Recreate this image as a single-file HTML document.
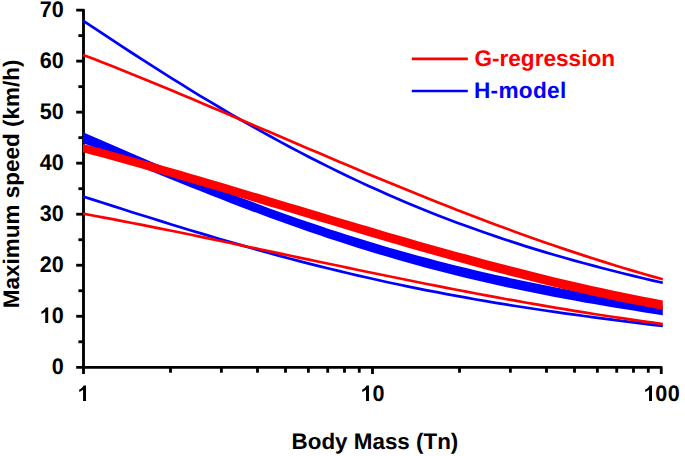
<!DOCTYPE html>
<html><head><meta charset="utf-8"><title>Chart</title>
<style>
html,body{margin:0;padding:0;background:#fff;}
body{width:685px;height:456px;overflow:hidden;font-family:"Liberation Sans",sans-serif;}
svg{display:block;}
</style></head>
<body>
<svg width="685" height="456" viewBox="0 0 685 456">
<rect width="685" height="456" fill="#ffffff"/>
<g stroke="#000" fill="none" stroke-linecap="butt" stroke-linejoin="round" stroke-width="2.85">
<path d="M76.20,10.09 H83.5 V374.00"/>
<path d="M76.20,367.3 H661.25 V374.00"/>
<line x1="78.40" y1="341.79" x2="83.5" y2="341.79"/>
<line x1="76.20" y1="316.27" x2="83.5" y2="316.27"/>
<line x1="78.40" y1="290.75" x2="83.5" y2="290.75"/>
<line x1="76.20" y1="265.24" x2="83.5" y2="265.24"/>
<line x1="78.40" y1="239.73" x2="83.5" y2="239.73"/>
<line x1="76.20" y1="214.21" x2="83.5" y2="214.21"/>
<line x1="78.40" y1="188.70" x2="83.5" y2="188.70"/>
<line x1="76.20" y1="163.18" x2="83.5" y2="163.18"/>
<line x1="78.40" y1="137.67" x2="83.5" y2="137.67"/>
<line x1="76.20" y1="112.15" x2="83.5" y2="112.15"/>
<line x1="78.40" y1="86.64" x2="83.5" y2="86.64"/>
<line x1="76.20" y1="61.12" x2="83.5" y2="61.12"/>
<line x1="78.40" y1="35.61" x2="83.5" y2="35.61"/>
<line x1="170.50" y1="367.3" x2="170.50" y2="372.70"/>
<line x1="221.39" y1="367.3" x2="221.39" y2="372.70"/>
<line x1="257.50" y1="367.3" x2="257.50" y2="372.70"/>
<line x1="285.50" y1="367.3" x2="285.50" y2="372.70"/>
<line x1="308.39" y1="367.3" x2="308.39" y2="372.70"/>
<line x1="327.73" y1="367.3" x2="327.73" y2="372.70"/>
<line x1="344.49" y1="367.3" x2="344.49" y2="372.70"/>
<line x1="359.28" y1="367.3" x2="359.28" y2="372.70"/>
<line x1="372.50" y1="367.3" x2="372.50" y2="374.00"/>
<line x1="459.50" y1="367.3" x2="459.50" y2="372.70"/>
<line x1="510.39" y1="367.3" x2="510.39" y2="372.70"/>
<line x1="546.50" y1="367.3" x2="546.50" y2="372.70"/>
<line x1="574.50" y1="367.3" x2="574.50" y2="372.70"/>
<line x1="597.39" y1="367.3" x2="597.39" y2="372.70"/>
<line x1="616.73" y1="367.3" x2="616.73" y2="372.70"/>
<line x1="633.49" y1="367.3" x2="633.49" y2="372.70"/>
<line x1="648.28" y1="367.3" x2="648.28" y2="372.70"/>
</g>
<g fill="none" stroke-width="2.7" stroke-linejoin="round">
<polyline points="83.0,20.6 92.8,27.2 102.7,33.7 112.5,40.2 122.3,46.7 132.1,53.0 142.0,59.4 151.8,65.7 161.6,71.9 171.4,78.1 181.3,84.2 191.1,90.3 200.9,96.3 210.8,102.2 220.6,108.0 230.4,113.8 240.2,119.5 250.1,125.1 259.9,130.6 269.7,136.0 279.5,141.4 289.4,146.7 299.2,151.9 309.0,157.0 318.9,162.0 328.7,166.9 338.5,171.7 348.3,176.5 358.2,181.1 368.0,185.7 377.8,190.1 387.6,194.5 397.5,198.7 407.3,202.9 417.1,207.0 426.9,211.0 436.8,214.9 446.6,218.7 456.4,222.4 466.3,226.1 476.1,229.6 485.9,233.1 495.7,236.4 505.6,239.7 515.4,242.9 525.2,246.1 535.0,249.1 544.9,252.1 554.7,255.0 564.5,257.8 574.4,260.6 584.2,263.3 594.0,265.9 603.8,268.5 613.7,271.0 623.5,273.5 633.3,275.9 643.1,278.2 653.0,280.6 662.8,282.8" stroke="#0000ff"/>
<polyline points="83.0,196.5 92.8,199.6 102.7,202.8 112.5,205.9 122.3,209.0 132.1,212.2 142.0,215.3 151.8,218.3 161.6,221.4 171.4,224.5 181.3,227.5 191.1,230.5 200.9,233.4 210.8,236.4 220.6,239.2 230.4,242.1 240.2,244.9 250.1,247.7 259.9,250.5 269.7,253.2 279.5,255.9 289.4,258.5 299.2,261.1 309.0,263.6 318.9,266.1 328.7,268.5 338.5,270.9 348.3,273.3 358.2,275.6 368.0,277.8 377.8,280.0 387.6,282.2 397.5,284.3 407.3,286.4 417.1,288.4 426.9,290.3 436.8,292.2 446.6,294.1 456.4,295.9 466.3,297.7 476.1,299.5 485.9,301.2 495.7,302.8 505.6,304.4 515.4,306.0 525.2,307.5 535.0,309.0 544.9,310.5 554.7,311.9 564.5,313.3 574.4,314.7 584.2,316.0 594.0,317.3 603.8,318.6 613.7,319.9 623.5,321.1 633.3,322.4 643.1,323.6 653.0,324.8 662.8,326.0" stroke="#0000ff"/>
<polygon points="83.0,132.3 92.8,136.5 102.7,140.8 112.5,145.1 122.3,149.3 132.1,153.5 142.0,157.7 151.8,161.9 161.6,166.0 171.4,170.0 181.3,174.1 191.1,178.1 200.9,182.0 210.8,186.0 220.6,189.8 230.4,193.6 240.2,197.4 250.1,201.1 259.9,204.8 269.7,208.4 279.5,212.0 289.4,215.5 299.2,218.9 309.0,222.3 318.9,225.6 328.7,228.9 338.5,232.1 348.3,235.2 358.2,238.3 368.0,241.3 377.8,244.3 387.6,247.2 397.5,250.0 407.3,252.8 417.1,255.5 426.9,258.1 436.8,260.7 446.6,263.2 456.4,265.7 466.3,268.1 476.1,270.5 485.9,272.7 495.7,275.0 505.6,277.1 515.4,279.3 525.2,281.3 535.0,283.3 544.9,285.3 554.7,287.2 564.5,289.1 574.4,290.9 584.2,292.7 594.0,294.4 603.8,296.1 613.7,297.8 623.5,299.4 633.3,301.0 643.1,302.5 653.0,304.0 662.8,305.6 662.8,315.2 653.0,313.7 643.1,312.2 633.3,310.6 623.5,309.1 613.7,307.4 603.8,305.8 594.0,304.1 584.2,302.4 574.4,300.6 564.5,298.8 554.7,297.0 544.9,295.1 535.0,293.1 525.2,291.1 515.4,289.1 505.6,287.0 495.7,284.8 485.9,282.6 476.1,280.3 466.3,277.9 456.4,275.5 446.6,273.0 436.8,270.5 426.9,267.9 417.1,265.2 407.3,262.5 397.5,259.7 387.6,256.8 377.8,253.9 368.0,250.9 358.2,247.9 348.3,244.8 338.5,241.6 328.7,238.4 318.9,235.1 309.0,231.7 299.2,228.3 289.4,224.8 279.5,221.3 269.7,217.7 259.9,214.1 250.1,210.4 240.2,206.7 230.4,202.9 220.6,199.1 210.8,195.2 200.9,191.3 191.1,187.4 181.3,183.5 171.4,179.5 161.6,175.5 151.8,171.5 142.0,167.4 132.1,163.4 122.3,159.3 112.5,155.2 102.7,151.1 92.8,147.1 83.0,143.0" fill="#0000ff" stroke="none"/>
<polyline points="83.0,54.9 92.8,58.6 102.7,62.5 112.5,66.3 122.3,70.2 132.1,74.2 142.0,78.2 151.8,82.2 161.6,86.2 171.4,90.3 181.3,94.4 191.1,98.6 200.9,102.7 210.8,106.9 220.6,111.1 230.4,115.3 240.2,119.5 250.1,123.7 259.9,127.9 269.7,132.1 279.5,136.3 289.4,140.5 299.2,144.7 309.0,148.9 318.9,153.1 328.7,157.3 338.5,161.5 348.3,165.6 358.2,169.8 368.0,173.9 377.8,178.0 387.6,182.0 397.5,186.1 407.3,190.1 417.1,194.1 426.9,198.0 436.8,202.0 446.6,205.8 456.4,209.7 466.3,213.5 476.1,217.3 485.9,221.0 495.7,224.7 505.6,228.3 515.4,231.9 525.2,235.4 535.0,238.9 544.9,242.4 554.7,245.8 564.5,249.1 574.4,252.4 584.2,255.6 594.0,258.8 603.8,261.9 613.7,265.0 623.5,268.0 633.3,270.9 643.1,273.8 653.0,276.6 662.8,279.3" stroke="#ff0000"/>
<polyline points="83.0,213.7 92.8,215.5 102.7,217.4 112.5,219.2 122.3,221.1 132.1,223.0 142.0,224.9 151.8,226.9 161.6,228.8 171.4,230.8 181.3,232.8 191.1,234.8 200.9,236.9 210.8,238.9 220.6,241.0 230.4,243.0 240.2,245.1 250.1,247.2 259.9,249.2 269.7,251.3 279.5,253.4 289.4,255.5 299.2,257.6 309.0,259.6 318.9,261.7 328.7,263.8 338.5,265.8 348.3,267.9 358.2,270.0 368.0,272.0 377.8,274.0 387.6,276.0 397.5,278.0 407.3,280.0 417.1,282.0 426.9,284.0 436.8,285.9 446.6,287.8 456.4,289.8 466.3,291.6 476.1,293.5 485.9,295.3 495.7,297.2 505.6,299.0 515.4,300.7 525.2,302.5 535.0,304.2 544.9,305.9 554.7,307.6 564.5,309.2 574.4,310.8 584.2,312.4 594.0,314.0 603.8,315.5 613.7,317.0 623.5,318.4 633.3,319.9 643.1,321.3 653.0,322.6 662.8,324.0" stroke="#ff0000"/>
<polygon points="83.0,144.0 92.8,146.5 102.7,149.1 112.5,151.8 122.3,154.4 132.1,157.2 142.0,159.9 151.8,162.6 161.6,165.4 171.4,168.2 181.3,171.1 191.1,173.9 200.9,176.8 210.8,179.7 220.6,182.6 230.4,185.5 240.2,188.4 250.1,191.4 259.9,194.3 269.7,197.3 279.5,200.2 289.4,203.2 299.2,206.1 309.0,209.1 318.9,212.0 328.7,214.9 338.5,217.9 348.3,220.8 358.2,223.7 368.0,226.6 377.8,229.5 387.6,232.4 397.5,235.2 407.3,238.1 417.1,240.9 426.9,243.7 436.8,246.5 446.6,249.2 456.4,251.9 466.3,254.6 476.1,257.3 485.9,259.9 495.7,262.5 505.6,265.1 515.4,267.6 525.2,270.1 535.0,272.6 544.9,275.0 554.7,277.4 564.5,279.7 574.4,282.0 584.2,284.3 594.0,286.5 603.8,288.6 613.7,290.7 623.5,292.8 633.3,294.8 643.1,296.7 653.0,298.6 662.8,300.5 662.8,309.8 653.0,308.0 643.1,306.1 633.3,304.2 623.5,302.2 613.7,300.2 603.8,298.1 594.0,295.9 584.2,293.7 574.4,291.5 564.5,289.2 554.7,286.9 544.9,284.5 535.0,282.1 525.2,279.6 515.4,277.1 505.6,274.6 495.7,272.0 485.9,269.4 476.1,266.7 466.3,264.0 456.4,261.3 446.6,258.6 436.8,255.8 426.9,253.0 417.1,250.2 407.3,247.4 397.5,244.5 387.6,241.7 377.8,238.8 368.0,235.9 358.2,233.0 348.3,230.0 338.5,227.1 328.7,224.1 318.9,221.2 309.0,218.2 299.2,215.3 289.4,212.3 279.5,209.3 269.7,206.4 259.9,203.4 250.1,200.4 240.2,197.5 230.4,194.5 220.6,191.6 210.8,188.7 200.9,185.8 191.1,182.9 181.3,180.0 171.4,177.1 161.6,174.3 151.8,171.4 142.0,168.6 132.1,165.8 122.3,163.1 112.5,160.3 102.7,157.6 92.8,154.9 83.0,152.3" fill="#ff0000" stroke="none"/>
</g>
<line x1="411.8" y1="58.8" x2="467.8" y2="58.8" stroke="#ff0000" stroke-width="2.7"/>
<line x1="411.8" y1="91.0" x2="467.8" y2="91.0" stroke="#0000ff" stroke-width="2.7"/>
<g style="font-family:'Liberation Sans',sans-serif;font-weight:bold;font-size:22.5px;text-rendering:geometricPrecision" fill="#000">
<text x="474.4" y="65.7" fill="#ff0000" style="font-size:22.6px">G-regression</text>
<text x="474.0" y="97.7" fill="#0000ff" style="font-size:22.6px;letter-spacing:0.3px">H-model</text>
<text x="51.70" y="373.75" textLength="12.0" lengthAdjust="spacingAndGlyphs">0</text>
<text x="51.70" y="322.72" textLength="12.0" lengthAdjust="spacingAndGlyphs">0</text>
<path fill="#000" d="M48.20,323.00 L45.24,323.00 L45.24,311.83 Q43.61,313.35 41.41,314.08 L41.41,311.39 Q42.57,311.01 43.93,309.95 Q45.29,308.89 45.80,307.48 L48.20,307.48 Z"/>
<text x="39.70" y="271.69" textLength="24.0" lengthAdjust="spacingAndGlyphs">20</text>
<text x="39.70" y="220.66" textLength="24.0" lengthAdjust="spacingAndGlyphs">30</text>
<text x="39.70" y="169.63" textLength="24.0" lengthAdjust="spacingAndGlyphs">40</text>
<text x="39.70" y="118.60" textLength="24.0" lengthAdjust="spacingAndGlyphs">50</text>
<text x="39.70" y="67.57" textLength="24.0" lengthAdjust="spacingAndGlyphs">60</text>
<text x="39.70" y="16.54" textLength="24.0" lengthAdjust="spacingAndGlyphs">70</text>
<path fill="#000" d="M86.00,401.00 L83.04,401.00 L83.04,389.83 Q81.41,391.35 79.21,392.08 L79.21,389.39 Q80.37,389.01 81.73,387.95 Q83.09,386.89 83.60,385.48 L86.00,385.48 Z"/>
<text x="372.50" y="400.6" textLength="12.0" lengthAdjust="spacingAndGlyphs">0</text>
<path fill="#000" d="M369.00,401.00 L366.04,401.00 L366.04,389.83 Q364.41,391.35 362.21,392.08 L362.21,389.39 Q363.37,389.01 364.73,387.95 Q366.09,386.89 366.60,385.48 L369.00,385.48 Z"/>
<text x="655.25" y="400.6" textLength="12.0" lengthAdjust="spacingAndGlyphs">0</text>
<text x="667.85" y="400.6" textLength="12.0" lengthAdjust="spacingAndGlyphs">0</text>
<path fill="#000" d="M652.00,401.00 L649.04,401.00 L649.04,389.83 Q647.41,391.35 645.21,392.08 L645.21,389.39 Q646.37,389.01 647.73,387.95 Q649.09,386.89 649.60,385.48 L652.00,385.48 Z"/>
<text x="291.6" y="448.5" style="font-size:22.4px">Body Mass (Tn)</text>
<text transform="translate(19.4,308.2) rotate(-90)" x="0" y="0">Maximum speed (km/h)</text>
</g>
</svg>
</body></html>
